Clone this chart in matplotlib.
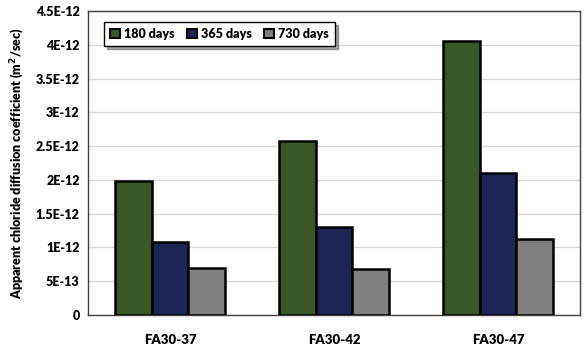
import numpy as np
import matplotlib.pyplot as plt

categories = ['FA30-37', 'FA30-42', 'FA30-47']
series = ['180 days', '365 days', '730 days']
d180 = [1.98e-12, 2.57e-12, 4.05e-12]
d365 = [1.08e-12, 1.30e-12, 2.10e-12]
d730 = [0.70e-12, 0.68e-12, 1.12e-12]
colors = ['#3a5728', '#1f2457', '#808080']
yticks = [0, 0.5e-12, 1e-12, 1.5e-12, 2e-12, 2.5e-12, 3e-12, 3.5e-12, 4e-12, 4.5e-12]
ylabels = ['0', '5E-13', '1E-12', '1.5E-12', '2E-12', '2.5E-12', '3E-12', '3.5E-12', '4E-12', '4.5E-12']

plt.rcParams['font.family'] = ['Lato', 'DejaVu Sans']
plt.rcParams['font.weight'] = 'heavy'

fig = plt.figure(figsize=(5.87, 3.47), dpi=100)
ax = fig.add_axes([88/587, 32/347, 492/587, 304/347])

x = np.arange(len(categories))
w = 0.225
for i, (vals, name) in enumerate(zip([d180, d365, d730], series)):
    ax.bar(x + (i - 1) * w, vals, w, color=colors[i], edgecolor='black',
           linewidth=1.8, label=name, zorder=3)

ax.set_xlim(-0.5, 2.5)
ax.set_ylim(0, 4.5e-12)
ax.set_yticks(yticks)
ax.set_yticklabels(ylabels, fontsize=9, fontweight='heavy')
ax.set_xticks(x)
ax.set_xticklabels(categories, fontsize=9.5, fontweight='heavy')
ax.tick_params(length=0, pad=6)
ax.tick_params(axis='x', pad=14)
ax.grid(axis='y', color='#d9d9d9', linewidth=1, zorder=0)
for s in ax.spines.values():
    s.set_color('#404040')
    s.set_linewidth(1)
ax.set_ylabel('Apparent chloride diffusion coefficient (m$^2$/sec)',
              fontsize=9, fontweight='heavy', labelpad=6)

leg = ax.legend(loc='upper left', ncol=3, fontsize=9, frameon=True, fancybox=False,
                shadow=True, edgecolor='black', handlelength=0.8, handleheight=0.8,
                handletextpad=0.3, columnspacing=1.0, borderpad=0.5,
                bbox_to_anchor=(0.02, 0.985))
leg.get_frame().set_linewidth(1)
for p in leg.get_patches():
    p.set_linewidth(1.5)

fig.savefig('out.png', dpi=100)
